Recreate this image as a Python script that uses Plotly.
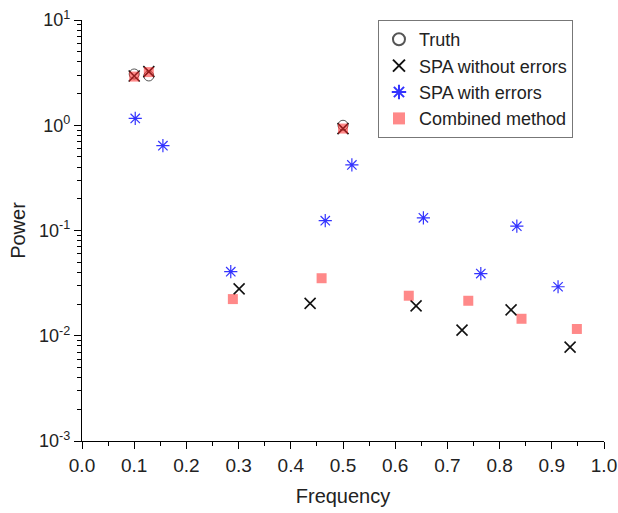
import numpy as np
import plotly.graph_objects as go

# Data
truth_f = [0.100, 0.128, 0.500]
truth_p = [3.07, 2.94, 1.00]

spa_noerr_f = [0.100, 0.128, 0.500, 0.301, 0.437, 0.640, 0.728, 0.822, 0.935]
spa_noerr_p = [2.94, 3.23, 0.93, 0.0279, 0.0203, 0.0192, 0.0113, 0.0176, 0.0078]

spa_err_f = [0.102, 0.155, 0.285, 0.466, 0.517, 0.654, 0.764, 0.833, 0.912]
spa_err_p = [1.16, 0.64, 0.0406, 0.124, 0.42, 0.132, 0.039, 0.110, 0.0292]

comb_f = [0.100, 0.128, 0.289, 0.459, 0.500, 0.626, 0.740, 0.842, 0.948]
comb_p = [2.90, 3.20, 0.0223, 0.0352, 0.93, 0.0240, 0.0215, 0.0145, 0.0116]

x_ticks = [0.0, 0.1, 0.2, 0.3, 0.4, 0.5, 0.6, 0.7, 0.8, 0.9, 1.0]
x_ticklabels = ["0.0", "0.1", "0.2", "0.3", "0.4", "0.5", "0.6", "0.7", "0.8", "0.9", "1.0"]
y_ticks = [1e-3, 1e-2, 1e-1, 1e0, 1e1]
y_ticklabels = ["10<sup>-3</sup>", "10<sup>-2</sup>", "10<sup>-1</sup>", "10<sup>0</sup>", "10<sup>1</sup>"]

FONT = "Liberation Sans, Arial, sans-serif"

fig = go.Figure()
fig.add_trace(go.Scatter(x=truth_f, y=truth_p, mode="markers", name="Truth",
                         marker=dict(symbol="circle-open", size=10, color="#555555",
                                     line=dict(width=1, color="#555555"))))
fig.add_trace(go.Scatter(x=spa_noerr_f, y=spa_noerr_p, mode="markers", name="SPA without errors",
                         marker=dict(symbol="x-thin-open", size=11, color="#111111",
                                     line=dict(width=1.6, color="#111111"))))
fig.add_trace(go.Scatter(x=spa_err_f, y=spa_err_p, mode="markers", name="SPA with errors",
                         marker=dict(symbol="asterisk-open", size=11, color="#3333ff",
                                     line=dict(width=1.2, color="#3333ff"))))
fig.add_trace(go.Scatter(x=comb_f, y=comb_p, mode="markers", name="Combined method",
                         marker=dict(symbol="square", size=10, color="rgba(255,40,40,0.55)",
                                     line=dict(width=0))))

minor_y = [m * 10.0 ** e for e in range(-3, 1) for m in range(2, 10)]
minor_x = [0.05 + 0.1 * i for i in range(10)]

fig.update_layout(
    width=618, height=513,
    margin=dict(l=82, r=14, t=20, b=72, autoexpand=False),
    paper_bgcolor="white", plot_bgcolor="white",
    font=dict(family=FONT, size=19, color="#222222"),
    showlegend=True,
    legend=dict(x=0.567, y=1.0, xanchor="left", yanchor="top",
                bgcolor="white", bordercolor="#777777", borderwidth=1,
                font=dict(family=FONT, size=18, color="#222222"),
                tracegroupgap=0, itemsizing="constant"),
    xaxis=dict(range=[0, 1], tickmode="array", tickvals=x_ticks, ticktext=x_ticklabels,
               automargin=False, ticklabeloverflow="allow",
               showline=True, linecolor="black", linewidth=1.2, mirror=False,
               ticks="outside", ticklen=7, tickwidth=1.2, tickcolor="black",
               showgrid=False, zeroline=False,
               minor=dict(tickvals=minor_x, ticks="outside", ticklen=4, tickwidth=1, tickcolor="black", showgrid=False),
               title=dict(text="Frequency", font=dict(size=20), standoff=14),
               tickfont=dict(size=19)),
    yaxis=dict(type="log", range=[-3, 1], tickmode="array", tickvals=y_ticks, ticktext=y_ticklabels,
               automargin=False, ticklabeloverflow="allow",
               showline=True, linecolor="black", linewidth=1.2, mirror=False,
               ticks="outside", ticklen=7, tickwidth=1.2, tickcolor="black",
               showgrid=False, zeroline=False,
               minor=dict(tickvals=minor_y, ticks="outside", ticklen=4, tickwidth=1, tickcolor="black", showgrid=False),
               title=dict(text="Power", font=dict(size=20), standoff=8),
               tickfont=dict(size=18)),
)

# remove the default page margin so the figure fills the window exactly
fig.write_html("out.html",
               config={"displayModeBar": False},
               post_script="document.body.style.margin='0';document.body.style.overflow='hidden';")
